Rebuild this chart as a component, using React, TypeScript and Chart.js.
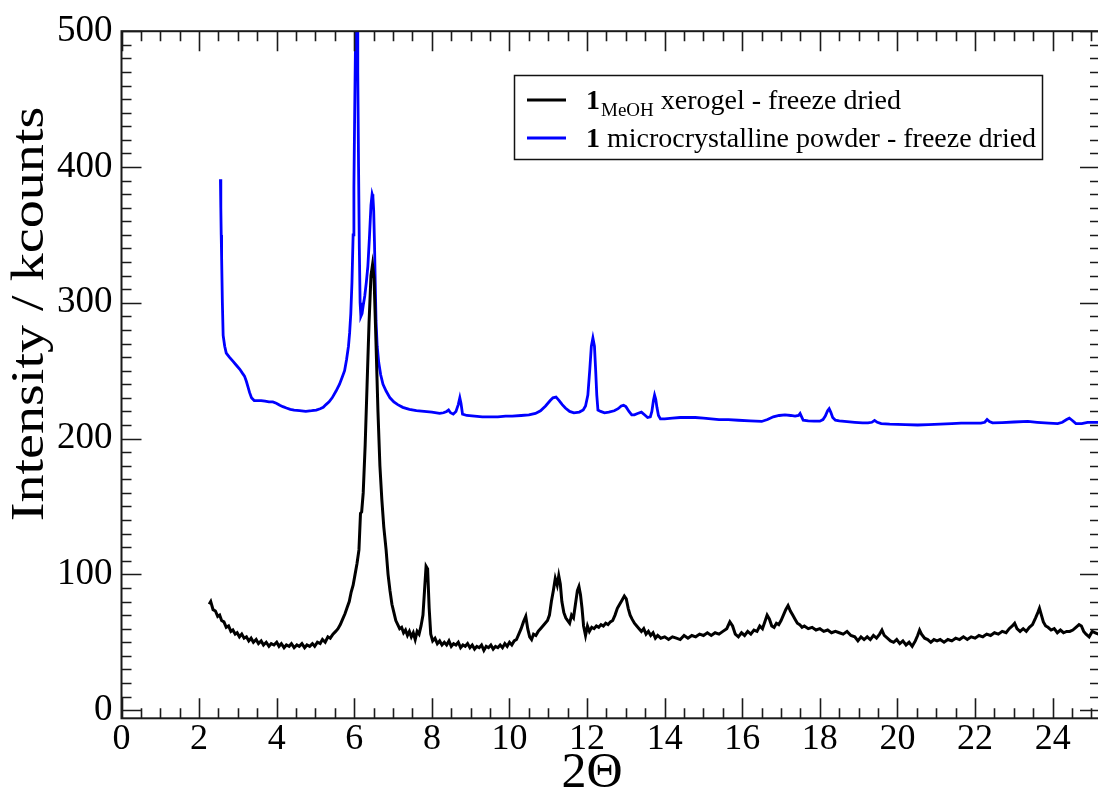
import { useEffect, useRef } from 'react';
import { Chart, registerables } from 'chart.js';

Chart.register(...registerables);

// ---- data ----
const xTickValues = [0, 2, 4, 6, 8, 10, 12, 14, 16, 18, 20, 22, 24];
const yTickValues = [0, 100, 200, 300, 400, 500];

const seriesNames = ['xerogel - freeze dried', 'microcrystalline powder - freeze dried'];

const blackX = [
  2.26, 2.30, 2.36, 2.42, 2.48, 2.53, 2.58, 2.64, 2.70, 2.76, 2.82, 2.87, 2.93, 2.98, 3.04, 3.10, 3.16, 3.22, 3.28, 3.34,
  3.40, 3.47, 3.53, 3.60, 3.66, 3.73, 3.80, 3.86, 3.93, 4.00, 4.06, 4.12, 4.19, 4.25, 4.32, 4.38, 4.45, 4.52, 4.58, 4.65,
  4.72, 4.78, 4.85, 4.92, 4.98, 5.05, 5.12, 5.18, 5.25, 5.32, 5.38, 5.45, 5.52, 5.58, 5.64, 5.70, 5.76, 5.82, 5.87, 5.92,
  5.97, 6.02, 6.07, 6.12, 6.16, 6.19, 6.23, 6.28, 6.33, 6.38, 6.43, 6.47, 6.51, 6.56, 6.61, 6.66, 6.71, 6.76, 6.82, 6.87,
  6.92, 6.97, 7.02, 7.07, 7.12, 7.17, 7.22, 7.27, 7.32, 7.37, 7.42, 7.47, 7.52, 7.57, 7.62, 7.67, 7.72, 7.77, 7.81, 7.85,
  7.89, 7.93, 7.97, 8.02, 8.08, 8.14, 8.20, 8.26, 8.32, 8.38, 8.44, 8.50, 8.56, 8.62, 8.68, 8.74, 8.80, 8.86, 8.92, 8.98,
  9.04, 9.10, 9.16, 9.22, 9.28, 9.34, 9.40, 9.46, 9.52, 9.58, 9.64, 9.70, 9.76, 9.82, 9.88, 9.94, 10.00, 10.06, 10.12, 10.18,
  10.24, 10.30, 10.36, 10.42, 10.47, 10.52, 10.57, 10.62, 10.68, 10.74, 10.80, 10.86, 10.92, 10.98, 11.03, 11.08, 11.13, 11.18, 11.23, 11.27,
  11.31, 11.35, 11.40, 11.45, 11.50, 11.55, 11.60, 11.65, 11.70, 11.75, 11.79, 11.83, 11.87, 11.91, 11.96, 12.01, 12.06, 12.12, 12.18, 12.24,
  12.30, 12.36, 12.42, 12.48, 12.54, 12.60, 12.66, 12.72, 12.78, 12.84, 12.90, 12.96, 13.01, 13.06, 13.11, 13.16, 13.22, 13.28, 13.34, 13.40,
  13.46, 13.52, 13.58, 13.64, 13.70, 13.76, 13.82, 13.90, 14.00, 14.10, 14.20, 14.30, 14.40, 14.50, 14.60, 14.70, 14.80, 14.90, 15.00, 15.10,
  15.20, 15.30, 15.40, 15.50, 15.60, 15.68, 15.75, 15.82, 15.90, 15.98, 16.06, 16.14, 16.22, 16.30, 16.38, 16.45, 16.52, 16.58, 16.64, 16.70,
  16.76, 16.82, 16.88, 16.94, 17.00, 17.06, 17.12, 17.18, 17.24, 17.30, 17.36, 17.42, 17.48, 17.54, 17.60, 17.70, 17.80, 17.90, 18.00, 18.10,
  18.20, 18.30, 18.40, 18.50, 18.60, 18.70, 18.80, 18.90, 18.98, 19.06, 19.14, 19.22, 19.30, 19.38, 19.46, 19.54, 19.60, 19.66, 19.74, 19.82,
  19.90, 19.98, 20.06, 20.14, 20.22, 20.30, 20.38, 20.46, 20.52, 20.57, 20.62, 20.70, 20.78, 20.86, 20.94, 21.02, 21.10, 21.20, 21.30, 21.40,
  21.50, 21.60, 21.70, 21.80, 21.90, 22.00, 22.10, 22.20, 22.30, 22.40, 22.50, 22.60, 22.70, 22.80, 22.88, 22.96, 23.02, 23.08, 23.16, 23.24,
  23.32, 23.40, 23.48, 23.56, 23.62, 23.66, 23.71, 23.76, 23.82, 23.88, 23.96, 24.04, 24.12, 24.20, 24.28, 24.36, 24.44, 24.52, 24.60, 24.68,
  24.74, 24.80, 24.86, 24.94, 25.02, 25.10, 25.18, 25.26,
];
const blackY = [
  78, 80, 74, 73, 69, 70, 66, 65, 61, 62, 58, 59, 56, 57, 54, 56, 53, 54, 51, 53,
  50, 52, 49, 51, 48, 50, 47, 49, 48, 50, 47, 49, 46, 48, 47, 49, 46, 48, 47, 49,
  46, 48, 47, 49, 47, 50, 49, 52, 50, 54, 53, 56, 58, 60, 63, 67, 71, 76, 80, 87,
  92, 100, 108, 118, 145, 146, 160, 195, 240, 285, 320, 328, 318, 270, 220, 180, 155, 135, 118, 100,
  88, 78, 72, 66, 63, 60, 61, 57, 59, 55, 58, 54, 57, 52, 58, 56, 62, 70, 88, 106,
  104, 75, 56, 51, 53, 49, 51, 48, 50, 48, 51, 47, 49, 48, 50, 46, 48, 47, 49, 46,
  48, 45, 47, 46, 48, 44, 47, 46, 48, 45, 47, 46, 48, 46, 49, 47, 50, 48, 51, 52,
  56, 60, 65, 69, 60, 54, 52, 56, 55, 58, 60, 62, 64, 66, 70, 80, 88, 97, 92, 99,
  93, 80, 72, 68, 66, 64, 70, 68, 78, 88, 91, 85, 75, 62, 55, 62, 58, 61, 60, 62,
  61, 63, 62, 64, 63, 65, 66, 70, 75, 78, 81, 84, 82, 75, 70, 67, 64, 62, 60, 58,
  60, 56, 58, 55, 57, 53, 55, 53, 54, 52, 54, 53, 52, 55, 53, 55, 54, 56, 55, 57,
  55, 57, 56, 58, 60, 65, 62, 56, 54, 57, 55, 58, 56, 59, 58, 62, 60, 65, 70, 67,
  62, 61, 64, 63, 66, 70, 74, 77, 73, 70, 67, 64, 63, 61, 62, 60, 61, 59, 60, 58,
  59, 57, 58, 57, 56, 58, 55, 54, 51, 54, 52, 54, 52, 55, 53, 56, 59, 55, 53, 51,
  50, 52, 49, 51, 48, 50, 47, 51, 55, 59, 56, 53, 52, 50, 52, 51, 52, 50, 52, 51,
  53, 52, 54, 52, 54, 53, 55, 54, 56, 55, 57, 56, 58, 57, 60, 62, 64, 60, 58, 60,
  58, 61, 63, 68, 72, 75, 70, 65, 62, 61, 59, 60, 57, 59, 57, 58, 58, 59, 61, 63,
  62, 58, 56, 54, 58, 57, 56, 57,
];

const blueX = [
  2.55, 2.56, 2.57, 2.58, 2.60, 2.62, 2.66, 2.70, 2.78, 2.87, 2.96, 3.05, 3.12, 3.17, 3.22, 3.26, 3.30, 3.35, 3.42, 3.50,
  3.60, 3.70, 3.80, 3.90, 3.99, 4.08, 4.16, 4.25, 4.35, 4.45, 4.59, 4.75, 4.90, 5.02, 5.12, 5.20, 5.27, 5.35, 5.43, 5.53,
  5.62, 5.70, 5.75, 5.80, 5.85, 5.88, 5.91, 5.94, 5.97, 5.99, 6.01, 6.03, 6.05, 6.07, 6.09, 6.11, 6.13, 6.15, 6.17, 6.20,
  6.23, 6.27, 6.31, 6.35, 6.39, 6.43, 6.46, 6.48, 6.50, 6.52, 6.54, 6.56, 6.59, 6.63, 6.68, 6.74, 6.82, 6.92, 7.02, 7.12,
  7.25, 7.42, 7.60, 7.80, 8.00, 8.20, 8.30, 8.38, 8.43, 8.48, 8.55, 8.62, 8.68, 8.72, 8.75, 8.79, 8.90, 9.10, 9.30, 9.50,
  9.70, 9.90, 10.07, 10.30, 10.50, 10.67, 10.80, 10.93, 11.05, 11.12, 11.20, 11.28, 11.36, 11.44, 11.55, 11.66, 11.80, 11.90, 11.96, 12.02,
  12.07, 12.11, 12.15, 12.19, 12.22, 12.25, 12.28, 12.35, 12.45, 12.56, 12.70, 12.80, 12.88, 12.94, 13.00, 13.08, 13.15, 13.22, 13.30, 13.40,
  13.48, 13.56, 13.63, 13.67, 13.71, 13.74, 13.77, 13.80, 13.84, 13.89, 14.00, 14.20, 14.40, 14.60, 14.79, 15.00, 15.20, 15.40, 15.64, 15.90,
  16.20, 16.50, 16.65, 16.80, 16.95, 17.10, 17.25, 17.36, 17.45, 17.49, 17.53, 17.57, 17.70, 17.85, 18.00, 18.08, 18.14, 18.20, 18.24, 18.28,
  18.33, 18.40, 18.50, 18.70, 18.90, 19.10, 19.24, 19.34, 19.41, 19.48, 19.58, 19.80, 20.00, 20.20, 20.52, 20.80, 21.10, 21.40, 21.64, 21.90,
  22.15, 22.25, 22.31, 22.37, 22.45, 22.70, 23.00, 23.36, 23.60, 23.90, 24.13, 24.25, 24.36, 24.43, 24.50, 24.60, 24.75, 24.90, 25.10, 25.26,
];
const blueY = [
  391, 370, 350, 334, 300, 276, 268, 263, 260, 257, 254, 251, 248, 246, 242, 238, 234, 230, 228, 228,
  228, 227.5, 227, 227, 226, 224.5, 223.5, 222.5, 221.5, 221, 220.5, 220, 220.5, 221, 222, 223, 225, 227, 230, 235,
  240, 246, 250, 258, 268, 278, 292, 315, 350, 385, 440, 490, 540, 530, 470, 400, 340, 300, 290, 292,
  298, 305, 315, 327, 348, 372, 380, 378, 368, 345, 315, 287, 268, 256, 247, 240, 235, 230, 227, 225,
  223, 221.5, 220.5, 220, 219.5, 218.5, 219, 220, 221, 219, 218, 220, 225, 230, 226, 218, 217, 216.5, 216, 216,
  216, 216.5, 216.5, 217, 217.5, 218.5, 220.5, 224, 228, 230, 230.5, 228, 225, 222.5, 220, 219, 219.5, 221, 224, 232,
  251, 268, 274, 268, 251, 232, 221, 220, 219, 219.5, 220.5, 222, 224, 224.5, 223.5, 220, 217.5, 217.5, 218.5, 219.5,
  217.5, 215.5, 216, 220, 228, 232, 229, 223, 217, 214.5, 214.5, 215, 215.5, 215.5, 215.5, 215, 214.5, 214, 214, 213.5,
  213, 212.6, 214, 216, 217, 217.5, 217, 216.5, 217, 218.5, 216, 213.5, 213, 212.8, 212.8, 214, 216.5, 220.5, 222, 219.5,
  215.5, 213.5, 213, 212.5, 212, 211.6, 211.6, 212, 213.4, 212, 211, 210.6, 210.4, 210.2, 210, 210.2, 210.6, 211, 211.4, 211.4,
  211.4, 212, 214, 212.5, 211.6, 211.8, 212.2, 212.6, 212, 211.4, 211, 212, 214, 215, 213.5, 211, 211, 212, 212, 212,
];

const SERIF = '"Liberation Serif", "Times New Roman", serif';

export default function App() {
  const ref = useRef<HTMLCanvasElement>(null);

  useEffect(() => {
    const canvas = ref.current;
    if (!canvas) return;

    const decor = {
      id: 'decor',
      afterDraw(chart: any) {
        const { ctx, chartArea: a, scales } = chart;
        const xs = scales.x;
        const ys = scales.y;
        ctx.save();
        // ticks (inward, all four sides)
        ctx.strokeStyle = '#1a1a1a';
        ctx.lineWidth = 1.6;
        ctx.beginPath();
        for (let i = 0; i <= 60; i++) {
          const v = i * 0.5;
          if (v > xs.max) break;
          const p = Math.round(xs.getPixelForValue(v)) + 0.5;
          const len = i % 4 === 0 ? 20 : 10;
          ctx.moveTo(p, a.bottom);
          ctx.lineTo(p, a.bottom - len);
          ctx.moveTo(p, a.top);
          ctx.lineTo(p, a.top + len);
        }
        for (let i = 0; i <= 50; i++) {
          const v = i * 10;
          const p = Math.round(ys.getPixelForValue(v)) + 0.5;
          const len = i % 10 === 0 ? 20 : 10;
          ctx.moveTo(a.left, p);
          ctx.lineTo(a.left + len, p);
          ctx.moveTo(a.right, p);
          ctx.lineTo(a.right - len, p);
        }
        ctx.stroke();
        // frame
        ctx.lineWidth = 2;
        ctx.strokeRect(a.left, a.top, a.right - a.left, a.bottom - a.top);

        // axis titles
        ctx.fillStyle = '#000';
        ctx.textBaseline = 'alphabetic';
        ctx.textAlign = 'center';
        ctx.font = `50px ${SERIF}`;
        ctx.fillText('2\u0398', 592, 787);
        ctx.save();
        ctx.translate(43, 314);
        ctx.rotate(-Math.PI / 2);
        ctx.scale(1.22, 1);
        ctx.font = `46px ${SERIF}`;
        ctx.fillText('Intensity / kcounts', 0, 0);
        ctx.restore();

        // legend
        const bx = 514.5, by = 75.5, bw = 528, bh = 84;
        ctx.fillStyle = '#fff';
        ctx.fillRect(bx, by, bw, bh);
        ctx.strokeStyle = '#111';
        ctx.lineWidth = 1.5;
        ctx.strokeRect(bx, by, bw, bh);
        const ds = chart.data.datasets;
        const rows = [100, 138];
        rows.forEach((ry: number, k: number) => {
          ctx.strokeStyle = ds[k].borderColor;
          ctx.lineWidth = 3;
          ctx.beginPath();
          ctx.moveTo(527, ry);
          ctx.lineTo(566, ry);
          ctx.stroke();
        });
        ctx.fillStyle = '#000';
        ctx.textAlign = 'left';
        // row 1
        let tx = 586;
        ctx.font = `bold 28px ${SERIF}`;
        ctx.fillText('1', tx, rows[0] + 9);
        tx += ctx.measureText('1').width + 1;
        ctx.font = `19px ${SERIF}`;
        ctx.fillText('MeOH', tx, rows[0] + 16);
        tx += ctx.measureText('MeOH').width;
        ctx.font = `28px ${SERIF}`;
        ctx.fillText(' ' + seriesNames[0], tx, rows[0] + 9);
        // row 2
        tx = 586;
        ctx.font = `bold 28px ${SERIF}`;
        ctx.fillText('1', tx, rows[1] + 9);
        tx += ctx.measureText('1').width;
        ctx.font = `28px ${SERIF}`;
        ctx.fillText(' ' + seriesNames[1], tx, rows[1] + 9);
        ctx.restore();
      },
    };

    const chart = new Chart(canvas, {
      type: 'line',
      data: {
        datasets: [
          {
            label: '1 MeOH xerogel - freeze dried',
            data: blackX.map((x, i) => ({ x, y: blackY[i] })),
            borderColor: '#000000',
            borderWidth: 3,
            pointRadius: 0,
            tension: 0,
          },
          {
            label: '1 microcrystalline powder - freeze dried',
            data: blueX.map((x, i) => ({ x, y: blueY[i] })),
            borderColor: '#0000ff',
            borderWidth: 2.8,
            pointRadius: 0,
            tension: 0,
          },
        ],
      },
      options: {
        responsive: false,
        animation: false,
        devicePixelRatio: 1,
        layout: { padding: { top: 26.5, right: 2, left: 0, bottom: 0 } },
        plugins: { legend: { display: false }, tooltip: { enabled: false } },
        scales: {
          x: {
            type: 'linear',
            min: 0,
            max: 25.22,
            afterBuildTicks: (s: any) => {
              s.ticks = xTickValues.map((v) => ({ value: v }));
            },
            afterFit: (s: any) => {
              s.height = 72.7;
            },
            ticks: {
              font: { family: SERIF, size: 36 },
              color: '#000',
              padding: 0,
              maxRotation: 0,
              autoSkip: false,
            },
            grid: { display: false, drawTicks: false },
            border: { display: false },
          },
          y: {
            type: 'linear',
            min: -6,
            max: 500,
            afterBuildTicks: (s: any) => {
              s.ticks = yTickValues.map((v) => ({ value: v }));
            },
            afterFit: (s: any) => {
              s.width = 121.5;
            },
            ticks: {
              font: { family: SERIF, size: 37 },
              color: '#000',
              padding: 9,
              autoSkip: false,
            },
            grid: { display: false, drawTicks: false },
            border: { display: false },
          },
        },
      },
      plugins: [decor],
    } as any);

    return () => chart.destroy();
  }, []);

  return (
    <div
      style={{
        position: 'absolute',
        left: 0,
        top: 0,
        width: 1098,
        height: 791,
        overflow: 'hidden',
        background: '#fff',
      }}
    >
      <canvas ref={ref} width={1102} height={791} style={{ display: 'block', width: 1102, height: 791 }} />
    </div>
  );
}
